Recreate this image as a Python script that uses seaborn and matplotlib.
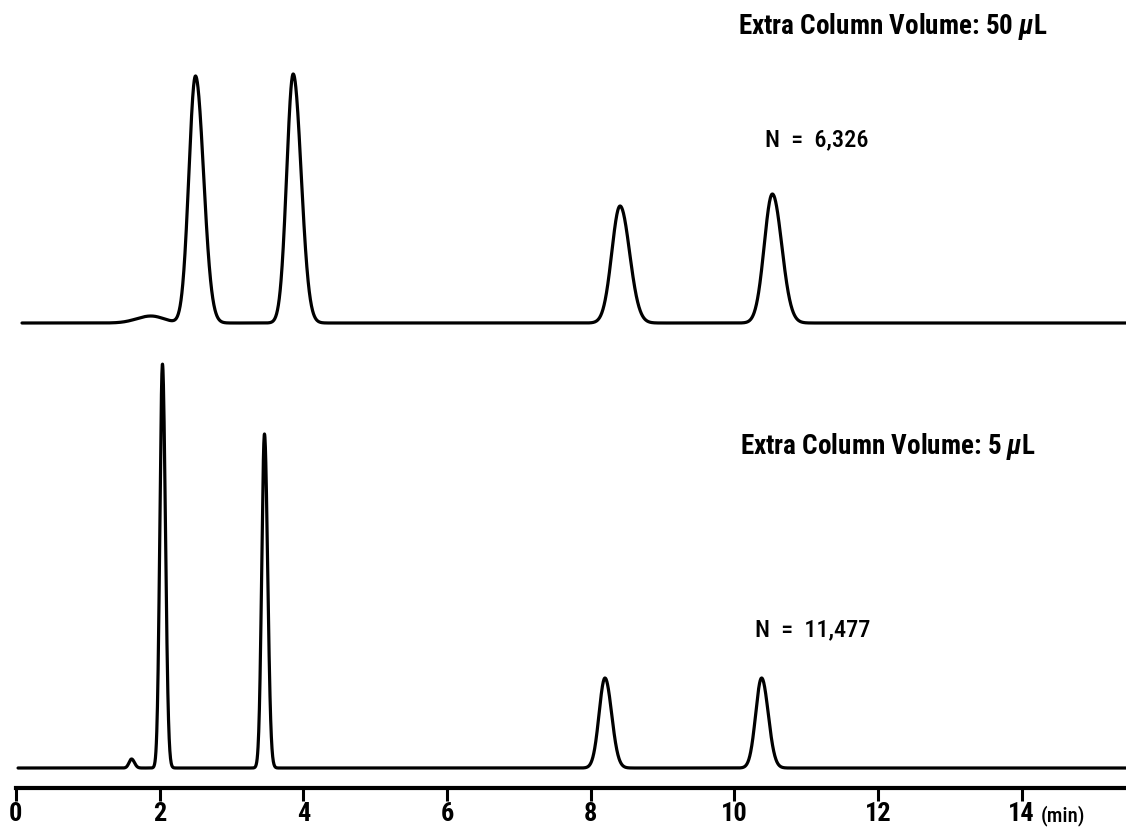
import numpy as np
import pandas as pd
import matplotlib
matplotlib.use("Agg")
import matplotlib.pyplot as plt
import seaborn as sns

# ---- data (retention time in min, height in px-like units) ----
upper_rt = [1.88, 2.50, 3.86, 8.41, 10.53]
upper_height = [7, 247, 249, 117, 129]
upper_sigma_left = [0.20, 0.092, 0.090, 0.115, 0.113]
upper_sigma_right = [0.18, 0.112, 0.110, 0.132, 0.130]
upper_baseline = 465

lower_rt = [1.61, 2.04, 3.46, 8.20, 10.38]
lower_height = [9, 404, 334, 90, 90]
lower_sigma_left = [0.035, 0.036, 0.038, 0.082, 0.082]
lower_sigma_right = [0.040, 0.041, 0.044, 0.092, 0.092]
lower_baseline = 20

tick_values = [0, 2, 4, 6, 8, 10, 12, 14]
labels_upper = ["Extra Column Volume: 50 $\\mu$L", "N  =  6,326"]
labels_lower = ["Extra Column Volume: 5 $\\mu$L", "N  =  11,477"]


def trace(t, rts, hs, sl, sr, base):
    y = np.full_like(t, float(base))
    for c, h, a, b in zip(rts, hs, sl, sr):
        s = np.where(t < c, a, b)
        y += h * np.exp(-0.5 * ((t - c) / s) ** 2)
    return y


sns.set_theme(style="white")
plt.rcParams['font.family'] = ['Roboto Condensed', 'DejaVu Sans']
plt.rcParams['mathtext.fontset'] = 'custom'
plt.rcParams['mathtext.it'] = 'Roboto Condensed:italic:bold'
plt.rcParams['mathtext.rm'] = 'Roboto Condensed:bold'
plt.rcParams['text.color'] = 'black'

W, H = 1126, 833
fig = plt.figure(figsize=(W / 100, H / 100), dpi=100)
x0_px = 15.9
ax = fig.add_axes([x0_px / W, (H - 788) / H, 1 - x0_px / W, 788 / H])

t_up = np.linspace(0.085, 15.45, 5000)
t_lo = np.linspace(0.03, 15.45, 5000)
df_up = pd.DataFrame({"t": t_up, "y": trace(t_up, upper_rt, upper_height, upper_sigma_left, upper_sigma_right, upper_baseline)})
df_lo = pd.DataFrame({"t": t_lo, "y": trace(t_lo, lower_rt, lower_height, lower_sigma_left, lower_sigma_right, lower_baseline)})

sns.lineplot(data=df_up, x="t", y="y", ax=ax, color="black", lw=2.3, sort=False, estimator=None)
sns.lineplot(data=df_lo, x="t", y="y", ax=ax, color="black", lw=2.3, sort=False, estimator=None)

ax.set_xlim(0, (W - x0_px) / 71.84)
ax.set_ylim(0, 788)
ax.set_xlabel("")
ax.set_ylabel("")
ax.set_yticks([])
ax.set_xticks(tick_values)
ax.set_xticklabels([str(v) for v in tick_values], fontweight="bold", color="black")
for s in ["top", "left", "right"]:
    ax.spines[s].set_visible(False)
ax.spines["bottom"].set_linewidth(3.0)
ax.spines["bottom"].set_color("black")
ax.tick_params(axis="x", direction="out", length=9, width=2.2, color="black",
               labelsize=19, pad=1, bottom=True, labelcolor="black")

ax.text(10.05, 762, labels_upper[0], fontsize=19.5, fontweight="bold", ha="left", va="center")
ax.text(10.43, 648, labels_upper[1], fontsize=17.5, fontweight=500, ha="left", va="center")
ax.text(10.08, 342, labels_lower[0], fontsize=19.5, fontweight="bold", ha="left", va="center")
ax.text(10.29, 158, labels_lower[1], fontsize=17.5, fontweight=500, ha="left", va="center")
ax.text(14.26, -28, "(min)", fontsize=15, fontweight=500, ha="left", va="center", clip_on=False)

fig.savefig("out.png", dpi=100)
